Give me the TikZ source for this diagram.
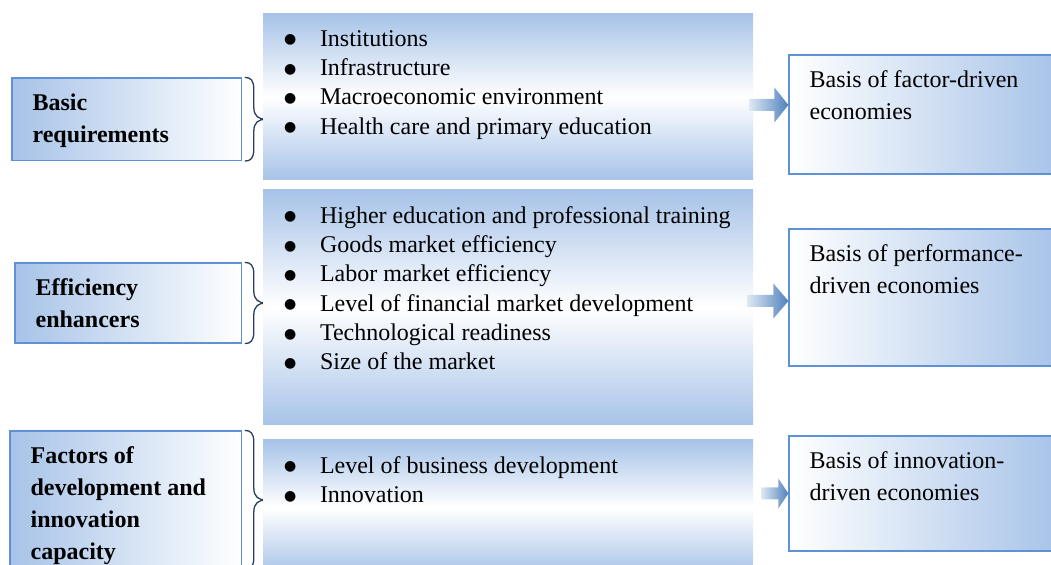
\documentclass[tikz,border=0pt]{standalone}
\usepackage{fontspec}
\setmainfont{Liberation Serif}
\newfontfamily\dotfont{DejaVu Sans}
\usetikzlibrary{calc,positioning}
\definecolor{boxblue}{RGB}{167,195,232}
\definecolor{edgeblue}{RGB}{95,145,215}
\definecolor{bracenavy}{RGB}{36,63,96}
\definecolor{arrowdark}{RGB}{79,129,189}
\definecolor{arrowlight}{RGB}{222,232,244}
\def\fatarrow(#1)(#2:#3:#4){\shade[left color=arrowlight, right color=arrowdark] ($(#1)+(-#2,-6)$) -- ($(#1)+(-#3,-6)$) -- ($(#1)+(-#3,-#4)$) -- (#1) -- ($(#1)+(-#3,#4)$) -- ($(#1)+(-#3,6)$) -- ($(#1)+(-#2,6)$) -- cycle;}
\def\curlybrace(#1){\draw[curly] let \p1=(#1.north east), \p2=(#1.south east), \n1={0.5*\y1+0.5*\y2} in
	(\x1+2.5bp,\y1) .. controls (\x1+8.5bp,\y1) and (\x1+11.5bp,\y1-3bp) .. (\x1+11.5bp,\y1-12bp)
	-- (\x1+11.5bp,\n1+12bp) .. controls (\x1+11.5bp,\n1+3bp) and (\x1+16.5bp,\n1) .. (\x1+23.5bp,\n1)
	.. controls (\x1+16.5bp,\n1) and (\x1+11.5bp,\n1-3bp) .. (\x1+11.5bp,\n1-12bp)
	-- (\x1+11.5bp,\y2+12bp) .. controls (\x1+11.5bp,\y2+3bp) and (\x1+8.5bp,\y2) .. (\x1+2.5bp,\y2);}
\newcommand{\itm}[1]{\makebox[35bp][l]{\hspace{-1bp}\raisebox{2.5bp}{\dotfont\fontsize{14bp}{14bp}\selectfont ●}}#1}

\begin{document}
\begin{tikzpicture}[x=1bp, y=1bp,
		factor/.style={draw=edgeblue, line width=1.2bp, left color=boxblue, right color=white, inner sep=0pt},
		outcome/.style={draw=edgeblue, line width=1.2bp, left color=white, right color=boxblue, inner sep=0pt},
		pillar/.style={top color=boxblue, bottom color=boxblue, middle color=white, inner sep=0pt},
		boldtext/.style={inner sep=0pt, align=left, font=\fontsize{24bp}{32bp}\selectfont\bfseries},
		plaintext/.style={inner sep=0pt, align=left, font=\fontsize{24bp}{32bp}\selectfont},
		itemtext/.style={inner sep=0pt, align=left, font=\fontsize{24bp}{29.3bp}\selectfont},
		curly/.style={draw=bracenavy, line width=1.3bp}]
		%%%%% START %%%%%
		
		\clip (0, 0) rectangle (1051, 565);
		
		% left column
		\node[factor, minimum width=229.7bp, minimum height=82.5bp] (basic) at (126.85, 445.75) {};
		\node[factor, minimum width=226.7bp, minimum height=80bp] (effic) at (128.35, 262) {};
		\node[factor, minimum width=231.7bp, minimum height=138bp] (factors) at (125.85, 65) {};
		
		\node[boldtext, below right=16.5bp and 21bp of basic.north west] (basictxt) {Basic\\requirements};
		\node[boldtext, below right=16.5bp and 21bp of effic.north west] (effictxt) {Efficiency\\enhancers};
		\node[boldtext, below right=16.5bp and 21bp of factors.north west] (factorstxt) {Factors of\\development and\\innovation\\capacity};
		
		\curlybrace(basic)
		\curlybrace(effic)
		\curlybrace(factors)
		
		% middle column
		\node[pillar, minimum width=490bp, minimum height=166bp] (pillar1) at (508, 468) {};
		\node[pillar, minimum width=490bp, minimum height=235bp] (pillar2) at (508, 257.5) {};
		\node[pillar, minimum width=490bp, minimum height=135bp] (pillar3) at (508, 57.5) {};
		
		\node[itemtext, below right=16.5bp and 22bp of pillar1.north west] (list1) {\itm{Institutions}\\\itm{Infrastructure}\\\itm{Macroeconomic environment}\\\itm{Health care and primary education}};
		\node[itemtext, below right=16.5bp and 22bp of pillar2.north west] (list2) {\itm{Higher education and professional training}\\\itm{Goods market efficiency}\\\itm{Labor market efficiency}\\\itm{Level of financial market development}\\\itm{Technological readiness}\\\itm{Size of the market}};
		\node[itemtext, below right=16.5bp and 22bp of pillar3.north west] (list3) {\itm{Level of business development}\\\itm{Innovation}};
		
		% right column
		\node[outcome, minimum width=271bp, minimum height=119bp] (res1) at (924.5, 450.5) {};
		\node[outcome, minimum width=271bp, minimum height=137bp] (res2) at (924.5, 267.5) {};
		\node[outcome, minimum width=271bp, minimum height=115bp] (res3) at (924.5, 71.5) {};
		
		\node[plaintext, below right=16.5bp and 21bp of res1.north west] (res1txt) {Basis of factor-driven\\economies};
		\node[plaintext, below right=16.5bp and 21bp of res2.north west] (res2txt) {Basis of performance-\\driven economies};
		\node[plaintext, below right=16.5bp and 21bp of res3.north west] (res3txt) {Basis of innovation-\\driven economies};
		
		% arrows
		\coordinate (tip1) at ([yshift=9.5bp]res1.west);
		\coordinate (tip2) at ([yshift=-3.5bp]res2.west);
		\coordinate (tip3) at (res3.west);
		\fatarrow(tip1)(39:14:17.5)
		\fatarrow(tip2)(41:15:17.5)
		\fatarrow(tip3)(27:10:15)
		
		%%%%% END %%%%%
	\end{tikzpicture}
\end{document}
